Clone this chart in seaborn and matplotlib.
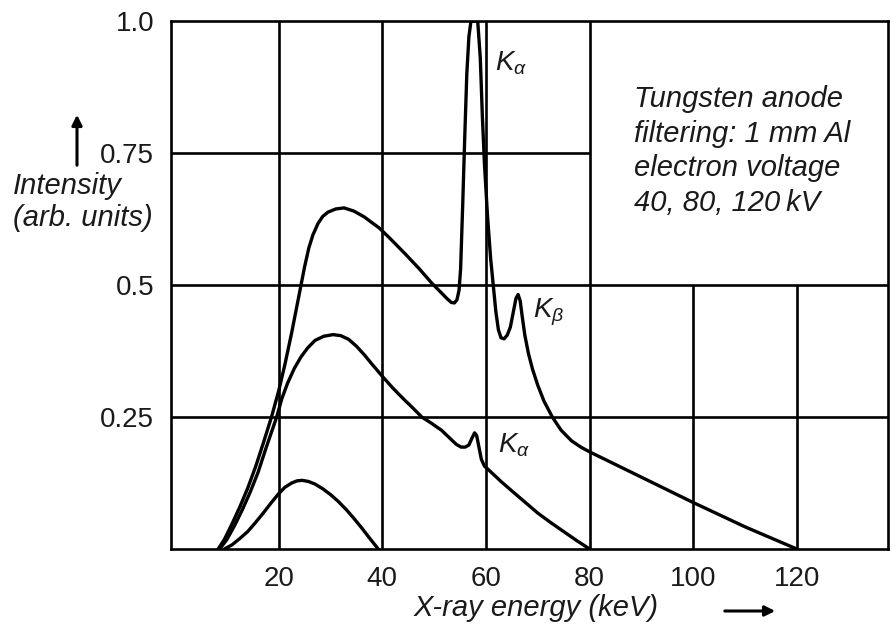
import matplotlib
matplotlib.use("Agg")
import matplotlib.pyplot as plt
from matplotlib.patches import FancyArrowPatch
import seaborn as sns

# -------------------------
# DATA
# -------------------------
kv120_energy = [8.3, 9.5, 11, 12.5, 14, 15.5, 17, 18.6, 20, 21.2, 22.5, 23.5, 24.3, 25, 25.8,
                26.6, 27.6, 28.5, 29.5, 31, 32.6, 34.5, 36.5, 38, 39.4, 41.5, 44.3, 47, 49.5,
                51, 52.5, 53.3, 53.9, 54.4, 54.8, 55.1, 55.5, 55.9, 56.3, 56.7, 57.1, 58.4,
                58.9, 59.3, 59.7, 60.3, 60.9, 61.4, 61.9, 62.4, 62.9, 63.5, 64.1, 64.7, 65.3,
                65.8, 66.2, 66.6, 67.0, 67.5, 68.2, 69.0, 70.0, 71.2, 72.8, 74.5, 76.5, 78.3,
                80, 85, 90, 95, 100, 105, 110, 115, 120]
kv120_intensity = [0.0, 0.018, 0.048, 0.08, 0.115, 0.155, 0.2, 0.25, 0.3, 0.35, 0.41, 0.46,
                   0.5, 0.535, 0.57, 0.595, 0.617, 0.63, 0.638, 0.644, 0.646, 0.64, 0.629,
                   0.618, 0.608, 0.588, 0.56, 0.532, 0.504, 0.489, 0.474, 0.467, 0.466, 0.472,
                   0.49, 0.53, 0.65, 0.78, 0.9, 0.97, 1.0, 1.0, 0.93, 0.82, 0.73, 0.63, 0.55,
                   0.5, 0.45, 0.415, 0.4, 0.398, 0.405, 0.42, 0.45, 0.475, 0.482, 0.47, 0.44,
                   0.405, 0.37, 0.34, 0.31, 0.28, 0.25, 0.225, 0.205, 0.193, 0.184, 0.16,
                   0.136, 0.112, 0.088, 0.065, 0.042, 0.021, 0.0]

kv80_energy = [8.6, 10, 11.5, 13, 14.5, 16, 17.5, 19.6, 20.6, 21.7, 23, 24.3, 25.6, 27, 28.7,
               30.5, 32, 33.5, 35, 36.5, 38, 40, 42, 44, 46, 47.6, 49.5, 51.4, 53, 54.3, 55.2,
               56, 56.7, 57.3, 57.8, 58.2, 58.6, 59.1, 59.7, 60.5, 63, 65, 67.5, 70, 72.5, 75,
               77.5, 80]
kv80_intensity = [0.0, 0.018, 0.045, 0.075, 0.108, 0.145, 0.19, 0.25, 0.285, 0.314, 0.342,
                  0.364, 0.381, 0.395, 0.403, 0.406, 0.404, 0.397, 0.384, 0.368, 0.35, 0.327,
                  0.305, 0.285, 0.266, 0.25, 0.238, 0.225, 0.21, 0.198, 0.193, 0.193, 0.197,
                  0.21, 0.22, 0.215, 0.195, 0.17, 0.157, 0.15, 0.127, 0.11, 0.089, 0.068,
                  0.05, 0.033, 0.016, 0.0]

kv40_energy = [9.5, 11, 12.5, 14, 15.5, 17, 18.5, 20, 21.2, 22.5, 23.5, 24.5, 25.7, 27, 28.5,
               30, 31.5, 33, 34.5, 36, 37.5, 39.2]
kv40_intensity = [0.0, 0.008, 0.02, 0.033, 0.05, 0.068, 0.087, 0.105, 0.117, 0.125, 0.129,
                  0.13, 0.128, 0.123, 0.114, 0.103, 0.09, 0.075, 0.058, 0.04, 0.021, 0.0]

x_ticks = [20, 40, 60, 80, 100, 120]
y_ticks = [0.25, 0.5, 0.75, 1.0]
y_tick_labels = ["0.25", "0.5", "0.75", "1.0"]

# grid of the original drawing is not regular
full_vlines = [20, 40, 60, 80]
short_vlines = [100, 120]      # only up to 0.5
full_hlines = [0.25, 0.5]
short_hlines = [0.75]          # only up to 80 keV

info_lines = ["Tungsten anode", "filtering: 1 mm Al", "electron voltage", "40, 80, 120\u2009kV"]

# -------------------------
# STYLE
# -------------------------
sns.set_theme(style="white")
plt.rcParams["font.family"] = ["Liberation Sans", "DejaVu Sans"]
plt.rcParams["mathtext.fontset"] = "custom"
plt.rcParams["mathtext.it"] = "Liberation Sans:italic"
plt.rcParams["mathtext.rm"] = "Liberation Sans"

FS = 20
FS_TXT = 21
LW_CURVE = 2.4
LW_GRID = 1.9
INK = "#1a1a1a"

fig = plt.figure(figsize=(8.93, 6.27), dpi=100)
ax = fig.add_axes([171 / 893, 78 / 627, 717 / 893, 528 / 627])

# -------------------------
# GRID
# -------------------------
for xv in full_vlines:
    ax.axvline(xv, color="black", lw=LW_GRID, zorder=1)
for xv in short_vlines:
    ax.vlines(xv, 0, 0.5, color="black", lw=LW_GRID, zorder=1)
for yv in full_hlines:
    ax.axhline(yv, color="black", lw=LW_GRID, zorder=1)
for yv in short_hlines:
    ax.hlines(yv, -1, 80, color="black", lw=LW_GRID, zorder=1)

# -------------------------
# SPECTRA
# -------------------------
curves = [(kv40_energy, kv40_intensity), (kv80_energy, kv80_intensity),
          (kv120_energy, kv120_intensity)]
for xs, ys in curves:
    sns.lineplot(x=xs, y=ys, ax=ax, color="black", lw=LW_CURVE, sort=False,
                 estimator=None, zorder=3)

ax.set_xlim(-0.8, 137.6)
ax.set_ylim(0, 1.0)
ax.set_xticks(x_ticks)
ax.set_yticks(y_ticks)
ax.set_yticklabels(y_tick_labels)
ax.tick_params(length=0, labelsize=FS, pad=12, colors=INK)
for s in ax.spines.values():
    s.set_color("black")
    s.set_linewidth(LW_GRID)
ax.set_xlabel("")
ax.set_ylabel("")

# peak labels
ax.text(61.8, 0.907, r"$K_\alpha$", fontsize=FS, ha="left", va="baseline", color=INK)
ax.text(69.1, 0.4375, r"$K_\beta$", fontsize=FS, ha="left", va="baseline", color=INK)
ax.text(62.4, 0.182, r"$K_\alpha$", fontsize=FS, ha="left", va="baseline", color=INK)

# info text
for i, line in enumerate(info_lines):
    ax.text(88.5, 0.837 - i * 0.0655, line, fontsize=FS_TXT, style="italic",
            ha="left", va="baseline", color=INK)

# axis labels with arrows (figure coords)
fig.text(13 / 893, 1 - 186 / 627, "Intensity", fontsize=FS_TXT, style="italic",
         ha="left", va="center", color=INK)
fig.text(13 / 893, 1 - 218 / 627, "(arb. units)", fontsize=FS_TXT, style="italic",
         ha="left", va="center", color=INK)
fig.text(536 / 893, 1 - 608 / 627, "X-ray energy (keV)", fontsize=FS_TXT, style="italic",
         ha="center", va="center", color=INK)

fig.patches.append(FancyArrowPatch(
    (77 / 893, 1 - 168 / 627), (77 / 893, 1 - 112 / 627), transform=fig.transFigure,
    arrowstyle="-|>,head_length=6,head_width=3", lw=2.2, color="black"))
fig.patches.append(FancyArrowPatch(
    (722 / 893, 1 - 611 / 627), (778 / 893, 1 - 611 / 627), transform=fig.transFigure,
    arrowstyle="-|>,head_length=6,head_width=3", lw=2.2, color="black"))

plt.savefig("out.png", dpi=100)
